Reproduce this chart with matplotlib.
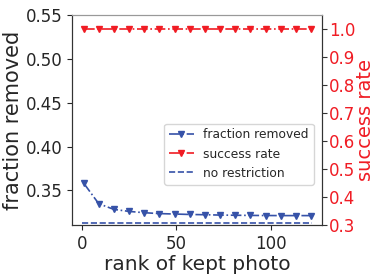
import matplotlib
matplotlib.use("Agg")
import matplotlib.pyplot as plt
import seaborn as sns

sns.set_style("ticks")
plt.rcParams['font.family'] = ['DejaVu Sans']

rank = [1, 9, 17, 25, 33, 41, 49, 57, 65, 73, 81, 89, 97, 105, 113, 121]
fraction_removed = [0.3585, 0.3348, 0.3283, 0.3260, 0.3245, 0.3235, 0.3230, 0.3225,
                    0.3222, 0.3218, 0.3216, 0.3214, 0.3213, 0.3212, 0.3212, 0.3212]
success_rate = [1.0] * len(rank)
no_restriction = 0.3128

blue = '#3652a8'
red = '#f01c24'

fig, ax = plt.subplots(figsize=(3.74, 2.8), dpi=100)
ax2 = ax.twinx()

l1, = ax.plot(rank, fraction_removed, '-.', marker='v', color=blue, markersize=4.5,
              linewidth=1.2, label='fraction removed')
l3 = ax.axhline(no_restriction, xmin=0.04, xmax=0.96, linestyle='--', color=blue,
                linewidth=1.2, label='no restriction')
l2, = ax2.plot(rank, success_rate, '-.', marker='v', color=red, markersize=4.5,
               linewidth=1.2, label='success rate')

ax.set_xlim(-5, 127)
ax.set_ylim(0.31, 0.55)
ax.set_yticks([0.35, 0.40, 0.45, 0.50, 0.55])
ax.set_xticks([0, 50, 100])
ax2.set_ylim(0.3, 1.05)
ax2.set_yticks([0.3, 0.4, 0.5, 0.6, 0.7, 0.8, 0.9, 1.0])

ax.tick_params(labelsize=12)
ax2.tick_params(axis='y', labelsize=12, labelcolor=red, color='#333333', pad=1.5)
ax.set_xlabel('rank of kept photo', fontsize=14.5, labelpad=1)
ax.set_ylabel('fraction removed', fontsize=15, labelpad=2)
ax2.set_ylabel('success rate', fontsize=14, color=red, labelpad=0)

for a in (ax, ax2):
    for s in a.spines.values():
        s.set_color('#333333')
    a.spines['top'].set_color('#999999')

ax.legend([l1, l2, l3], ['fraction removed', 'success rate', 'no restriction'],
          loc='center right', bbox_to_anchor=(0.99, 0.34), fontsize=8.8,
          frameon=True)

fig.subplots_adjust(left=0.193, right=0.862, top=0.945, bottom=0.195)
fig.savefig('out.png', dpi=100)
